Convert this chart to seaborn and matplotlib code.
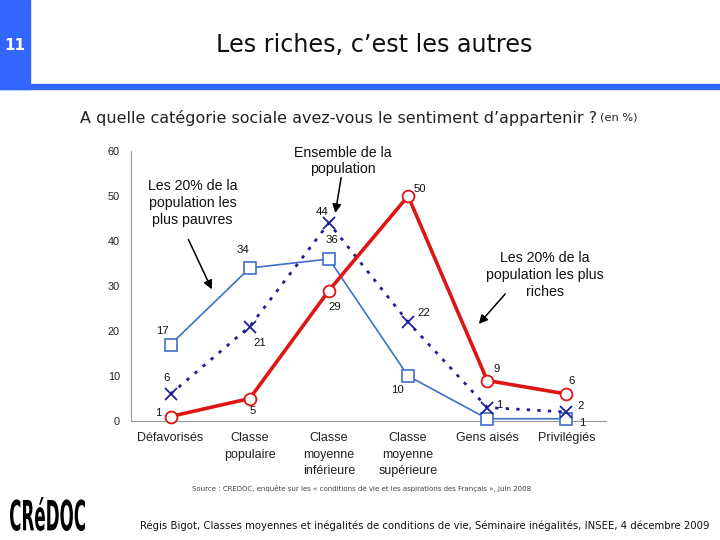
import numpy as np
import pandas as pd
import seaborn as sns
import matplotlib.pyplot as plt
from matplotlib.patches import Rectangle, PathPatch
from matplotlib.textpath import TextPath
from matplotlib.font_manager import FontProperties
from matplotlib.transforms import Affine2D


# Sentiment d'appartenance a une categorie sociale (en %)
categories = ["Défavorisés", "Classe\npopulaire", "Classe\nmoyenne\ninférieure",
              "Classe\nmoyenne\nsupérieure", "Gens aisés", "Privilégiés"]
pauvres = [17, 34, 36, 10, 0.5, 0.5]
ensemble = [6, 21, 44, 22, 3, 2]
riches = [1, 5, 29, 50, 9, 6]
labels_pauvres = ["17", "34", "36", "10", "", "1"]
labels_ensemble = ["6", "21", "44", "22", "1", "2"]
labels_riches = ["1", "5", "29", "50", "9", "6"]
yticks = [0, 10, 20, 30, 40, 50, 60]

# label offsets in pixels (dx, dy)
off_pauvres = [(-8, 14), (-7, 18), (3, 19), (-11, -14), (0, 0), (16, -4)]
off_ensemble = [(-4, 16), (10, -17), (-7, 11), (16, 9), (12, 3), (14, 6)]
off_riches = [(-12, 4), (3, -12), (6, -16), (12, 7), (9, 11), (5, 13)]

BLUE_HDR = "#3366FF"
C_PAUVRES = "#3F6FCB"
C_ENSEMBLE = "#1E1E96"
C_RICHES = "#DD1515"

sns.set_style("white")
plt.rcParams['font.family'] = ['Liberation Sans', 'DejaVu Sans']

fig = plt.figure(figsize=(7.2, 5.4), dpi=100)
W, H = 720.0, 540.0

# header
fig.patches.append(Rectangle((0, 1 - 89 / H), 30 / W, 89 / H, transform=fig.transFigure,
                             color=BLUE_HDR, zorder=0))
fig.patches.append(Rectangle((0, 1 - 89 / H), 1, 5 / H, transform=fig.transFigure,
                             color=BLUE_HDR, zorder=0))
fig.text(15 / W, 1 - 45 / H, "11", color="white", fontsize=11, fontweight="bold",
         ha="center", va="center", family="DejaVu Sans")
fig.text(374 / W, 1 - 45 / H, "Les riches, c\u2019est les autres", fontsize=17.2,
         ha="center", va="center", family="DejaVu Sans", color="#111111")
fig.text(80 / W, 1 - 118 / H, "A quelle catégorie sociale avez-vous le sentiment d\u2019appartenir ?",
         fontsize=11.5, ha="left", va="center", family="DejaVu Sans", color="#222222")
fig.text(600 / W, 1 - 118 / H, "(en %)", fontsize=8.2, ha="left", va="center",
         family="DejaVu Sans", color="#222222")

ax = fig.add_axes([131 / W, 1 - 421 / H, 475 / W, 270 / H])
x = np.arange(len(categories))

sns.lineplot(x=x, y=pauvres, ax=ax, color=C_PAUVRES, lw=1.2, marker="s", markersize=8,
             markerfacecolor="white", markeredgecolor=C_PAUVRES, markeredgewidth=1.2,
             clip_on=False, zorder=3)
sns.lineplot(x=x, y=ensemble, ax=ax, color=C_ENSEMBLE, lw=2, linestyle=(0, (1.2, 2.6)),
             marker="x", markersize=9, markeredgecolor=C_ENSEMBLE, markeredgewidth=1.3,
             clip_on=False, zorder=4)
sns.lineplot(x=x, y=riches, ax=ax, color=C_RICHES, lw=2.6, marker="o", markersize=8.5,
             markerfacecolor="white", markeredgecolor=C_RICHES, markeredgewidth=1.3,
             clip_on=False, zorder=5)

for vals, labs, offs in [(pauvres, labels_pauvres, off_pauvres),
                         (ensemble, labels_ensemble, off_ensemble),
                         (riches, labels_riches, off_riches)]:
    for i, (v, lab, off) in enumerate(zip(vals, labs, offs)):
        if lab:
            ax.annotate(lab, (i, v), xytext=off, textcoords="offset pixels",
                        ha="center", va="center", fontsize=8.2, color="#111111",
                        annotation_clip=False)

ax.set_xlim(-0.5, len(categories) - 0.5)
ax.set_ylim(0, 60)
ax.set_yticks(yticks)
ax.set_yticklabels([str(t) for t in yticks], fontsize=7.8, color="#222222")
ax.set_xticks(np.arange(len(categories)) + 0.5)
ax.set_xticklabels([])
ax.set_xticks(x, minor=True)
ax.set_xticklabels(categories, minor=True, fontsize=9, color="#222222", linespacing=1.5,
                   va="top")
ax.tick_params(axis="x", which="major", direction="out", length=4, color="#999999", width=0.8)
ax.tick_params(axis="x", which="minor", length=0, pad=8)
ax.tick_params(axis="y", direction="out", length=3, color="#999999", width=0.8, pad=5)
for s in ["top", "right"]:
    ax.spines[s].set_visible(False)
for s in ["left", "bottom"]:
    ax.spines[s].set_color("#999999")
    ax.spines[s].set_linewidth(0.8)

# annotations
ax.text(0.28, 48.4, "Les 20% de la\npopulation les\nplus pauvres", ha="center", va="center",
        fontsize=10.2, linespacing=1.25, color="#111111")
ax.annotate("", xy=(0.535, 28.7), xytext=(0.21, 40.9),
            arrowprops=dict(arrowstyle="-|>", color="black", lw=1.1, mutation_scale=13))
ax.text(2.18, 57.8, "Ensemble de la\npopulation", ha="center", va="center",
        fontsize=10.2, linespacing=1.25, color="#111111", clip_on=False)
ax.annotate("", xy=(2.075, 45.6), xytext=(2.16, 54.7),
            arrowprops=dict(arrowstyle="-|>", color="black", lw=1.1, mutation_scale=13))
ax.text(4.73, 32.4, "Les 20% de la\npopulation les plus\nriches", ha="center", va="center",
        fontsize=10.2, linespacing=1.25, color="#111111")
ax.annotate("", xy=(3.87, 21.1), xytext=(4.25, 28.7),
            arrowprops=dict(arrowstyle="-|>", color="black", lw=1.1, mutation_scale=13))

# footer
fig.text(362 / W, 1 - 489 / H,
         "Source : CREDOC, enquête sur les « conditions de vie et les aspirations des Français », juin 2008",
         fontsize=5, ha="center", va="center", family="DejaVu Sans", color="#444444")

# logo squeezed into its box (display pixels, origin bottom-left)
logo = TextPath((0, 0), "CRéDOC", size=40, prop=FontProperties(family="DejaVu Sans", weight="bold"))
ext = logo.get_extents()
logo_tr = (Affine2D().translate(-ext.x0, -ext.y0)
           .scale(75 / ext.width, 34 / ext.height).translate(10, H - 531))
fig.patches.append(PathPatch(logo, transform=logo_tr, color="black", lw=0))

fig.text(140 / W, 1 - 526 / H,
         "Régis Bigot, Classes moyennes et inégalités de conditions de vie, Séminaire inégalités, INSEE, 4 décembre 2009",
         fontsize=7.25, ha="left", va="center", family="DejaVu Sans", color="#111111")

fig.savefig("out.png", dpi=100)
